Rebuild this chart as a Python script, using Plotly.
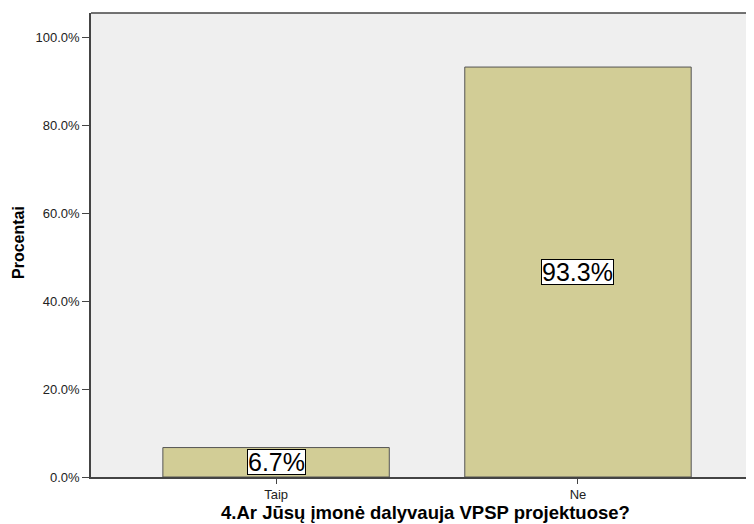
import plotly.graph_objects as go

categories = ["Taip", "Ne"]
percentages = [6.7, 93.3]
value_labels = ["6.7%", "93.3%"]
y_tick_values = [0, 20, 40, 60, 80, 100]
y_tick_labels = ["0.0%", "20.0%", "40.0%", "60.0%", "80.0%", "100.0%"]

PLOT_W = 663
PLOT_H = 464

fig = go.Figure()
fig.add_trace(go.Bar(
    x=categories, y=percentages, width=0.75,
    marker=dict(color="#d2cd96", line=dict(color="#555555", width=1)),
    hoverinfo="skip",
))

for c, v, t in zip(categories, percentages, value_labels):
    fig.add_annotation(x=c, y=v / 2, text=t, showarrow=False, height=24,
                       font=dict(family="Arial, Liberation Sans", size=25, color="black"),
                       bgcolor="white", bordercolor="black", borderwidth=1, borderpad=0)

fig.add_annotation(xref="paper", yref="paper", x=(219 - 91) / PLOT_W, y=-(500 - 477) / PLOT_H,
                   xanchor="left", yanchor="top", showarrow=False,
                   text="<b>4.Ar Jūsų įmonė dalyvauja VPSP projektuose?</b>",
                   font=dict(family="Arial, Liberation Sans", size=18.5, color="black"))
fig.add_annotation(xref="paper", yref="paper", x=-(91 - 18) / PLOT_W, y=(477 - 243) / PLOT_H,
                   xanchor="center", yanchor="middle", showarrow=False, textangle=-90,
                   text="<b>Procentai</b>",
                   font=dict(family="Arial, Liberation Sans", size=16, color="black"))

fig.update_layout(
    width=746, height=516,
    margin=dict(l=83, r=0, t=5, b=47),
    paper_bgcolor="white", plot_bgcolor="#efefef",
    showlegend=False,
    font=dict(family="Arial, Liberation Sans", size=13, color="#222222"),
    xaxis=dict(range=[-0.613, 1.583], showline=True, linecolor="#444444", linewidth=1.5,
               ticks="outside", ticklen=5, tickcolor="#444444", showgrid=False,
               tickfont=dict(size=13, color="#222222")),
    yaxis=dict(range=[0, 105.6], tickvals=y_tick_values, ticktext=y_tick_labels,
               showline=True, linecolor="#444444", linewidth=1.5, ticks="outside",
               ticklen=7, tickcolor="#444444", showgrid=False, zeroline=False,
               tickfont=dict(size=13, color="#222222")),
)
fig.add_shape(type="line", xref="paper", yref="paper", x0=0, x1=1, y0=1, y1=1,
              line=dict(color="#444444", width=1.5))

fig.write_html("out.html")
